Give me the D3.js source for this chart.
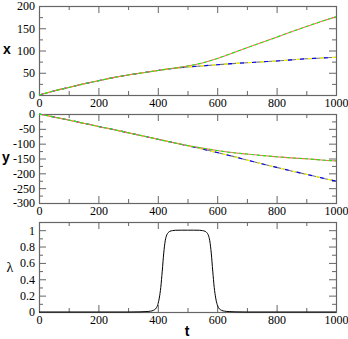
<!DOCTYPE html>
<html>
<head>
<meta charset="utf-8">
<script src="https://cdn.jsdelivr.net/npm/d3@7"></script>
<style>
  body { margin: 0; background: #fff; }
  svg { display: block; }
  .domain { display: none; }
  .tick line { stroke: #666; }
</style>
</head>
<body>
<div id="chart"></div>
<script>
// time samples
var tVals = [0,50,100,150,200,250,300,350,400,450,500,550,600,650,700,750,800,850,900,950,1000];

// x(t): upper branch (A) and lower branch (B)
var xA = [0,9,17,25,32,39,45,50,55,60,65,72,82,94,106,118,130,142,154,165,176];
var xB = [0,9,17,25,32,39,45,50,55,59.5,63,65.5,68,70.5,72.5,74.5,76.5,79,81.5,83,85];

// y(t): upper branch (A) and lower branch (B)
var yA = [0,-10,-20,-31,-42,-52,-63,-74,-85,-96,-106,-115,-123,-130,-135,-140,-144,-148,-151,-155,-158];
var yB = [0,-10,-20,-31,-42,-52,-63,-74,-85,-96,-107,-118,-130,-142,-155,-168,-180,-192,-203,-215,-226];

// lambda(t)
var lamT = [0,300,340,360,375,385,395,400,405,410,415,420,425,430,435,440,450,460,480,500,520,540,550,560,565,570,575,580,585,590,595,600,605,615,625,640,660,700,1000];
var lamV = [0,0,0.002,0.005,0.01,0.02,0.05,0.09,0.17,0.3,0.5,0.72,0.87,0.94,0.97,0.985,0.995,0.999,1,1,1,0.999,0.995,0.985,0.97,0.94,0.87,0.72,0.5,0.3,0.17,0.09,0.05,0.02,0.01,0.005,0.002,0,0];

// trajectories: colour, branch, dash
var series = [
  {color:'#777777', branch:'B', dash:null, off:0},
  {color:'#0000ff', branch:'B', dash:'4,8', off:0},
  {color:'#ffff00', branch:'B', dash:'4,8', off:4},
  {color:'#ff6666', branch:'A', dash:null, off:0},
  {color:'#00ff00', branch:'A', dash:'3,3', off:0}
];

var W = 348, H = 339;
var L = 39, R = 336;
var serif = "'Liberation Serif', 'DejaVu Serif', serif";
var sans = "'Liberation Sans', Arial, sans-serif";

var svg = d3.select('#chart').append('svg')
    .attr('width', W).attr('height', H);

var x = d3.scaleLinear().domain([0,1000]).range([L,R]);
var xMajor = [0,200,400,600,800,1000],
    xMinor = [100,300,500,700,900];

function font(sel){
  sel.selectAll('text')
    .style('font-family', serif)
    .style('font-size', '12px')
    .style('fill', '#000');
}

function panel(top, bottom, dom, major, minor, fmt){
  var y = d3.scaleLinear().domain(dom).range([bottom, top]);
  var g = svg.append('g');

  // minor ticks on all sides
  g.append('g').attr('transform','translate(0,'+bottom+')')
    .call(d3.axisBottom(x).tickValues(xMinor).tickSize(-4).tickFormat(''));
  g.append('g').attr('transform','translate(0,'+top+')')
    .call(d3.axisTop(x).tickValues(xMinor).tickSize(-4).tickFormat(''));
  g.append('g').attr('transform','translate('+L+',0)')
    .call(d3.axisLeft(y).tickValues(minor).tickSize(-4).tickFormat(''));
  g.append('g').attr('transform','translate('+R+',0)')
    .call(d3.axisRight(y).tickValues(minor).tickSize(-4).tickFormat(''));

  // major ticks
  g.append('g').attr('transform','translate(0,'+bottom+')')
    .call(d3.axisBottom(x).tickValues(xMajor).tickSize(-7).tickPadding(3).tickFormat(String))
    .call(font);
  g.append('g').attr('transform','translate(0,'+top+')')
    .call(d3.axisTop(x).tickValues(xMajor).tickSize(-7).tickFormat(''));
  g.append('g').attr('transform','translate('+L+',0)')
    .call(d3.axisLeft(y).tickValues(major).tickSize(-7).tickPadding(4).tickFormat(fmt || String))
    .call(font);
  g.append('g').attr('transform','translate('+R+',0)')
    .call(d3.axisRight(y).tickValues(major).tickSize(-7).tickFormat(''));

  g.append('rect')
    .attr('x', L+0.5).attr('y', top+0.5)
    .attr('width', R-L).attr('height', bottom-top)
    .attr('fill','none').attr('stroke','#666').attr('stroke-width',1.2);

  return {g:g, y:y};
}

function range(a,b,s){ return d3.range(a, b+s/2, s); }

// panel 1: x
var p1 = panel(6, 95, [0,200], range(0,200,50), range(25,175,50));
// panel 2: y
var p2 = panel(114, 203, [-300,0], range(-300,0,50), range(-275,-25,50));
// panel 3: lambda
var p3 = panel(222, 312, [0,1.1], [0,0.2,0.4,0.6,0.8,1], [0.1,0.3,0.5,0.7,0.9,1.1], function(d){ return String(+d.toFixed(1)); });

function drawSeries(p, vals){
  var line = d3.line()
      .x(function(d,i){ return x(tVals[i]); })
      .y(function(d){ return p.y(d); })
      .curve(d3.curveMonotoneX);
  series.forEach(function(s){
    p.g.append('path')
      .attr('d', line(vals[s.branch]))
      .attr('fill','none')
      .attr('stroke', s.color)
      .attr('stroke-width', 1.1)
      .attr('stroke-dasharray', s.dash)
      .attr('stroke-dashoffset', s.off);
  });
}

drawSeries(p1, {A:xA, B:xB});
drawSeries(p2, {A:yA, B:yB});

var lamLine = d3.line()
    .x(function(d,i){ return x(lamT[i]); })
    .y(function(d){ return p3.y(d); })
    .curve(d3.curveMonotoneX);
p3.g.append('path')
  .attr('d', lamLine(lamV))
  .attr('fill','none')
  .attr('stroke','#000')
  .attr('stroke-width',1);

// axis titles
svg.append('text').attr('x',7).attr('y',54).attr('text-anchor','middle')
  .style('font-family',sans).style('font-weight','bold').style('font-size','14px')
  .text('x');
svg.append('text').attr('x',6).attr('y',162).attr('text-anchor','middle')
  .style('font-family',sans).style('font-weight','bold').style('font-size','14px')
  .text('y');
svg.append('text').attr('x',10).attr('y',272).attr('text-anchor','middle')
  .style('font-family',serif).style('font-size','14px')
  .text('λ');
svg.append('text').attr('x',187).attr('y',336).attr('text-anchor','middle')
  .style('font-family',sans).style('font-weight','bold').style('font-size','14px')
  .text('t');
</script>
</body>
</html>
